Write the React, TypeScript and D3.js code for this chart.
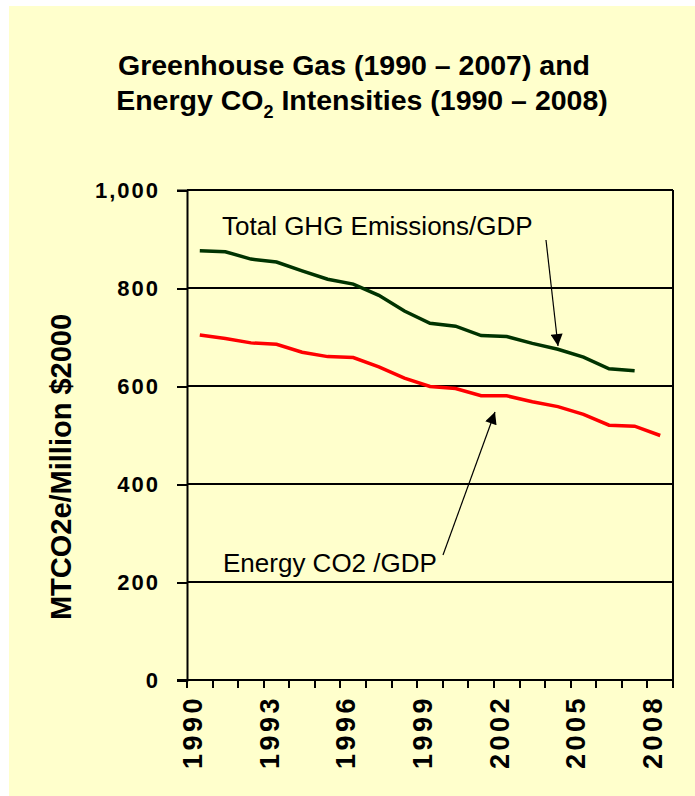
import React, { useEffect, useRef } from "react";
import * as d3 from "d3";

const years = [
  "1990", "1991", "1992", "1993", "1994", "1995", "1996", "1997", "1998", "1999",
  "2000", "2001", "2002", "2003", "2004", "2005", "2006", "2007", "2008",
];
const ghgPerGdp = [876, 874, 859, 853, 835, 818, 808, 785, 753, 728, 722, 703, 701, 687, 675, 659, 635, 631];
const energyCo2PerGdp = [704, 697, 688, 685, 669, 660, 658, 639, 616, 599, 595, 580, 580, 568, 558, 542, 520, 518, 499];
const yTicks = [0, 200, 400, 600, 800, 1000];
const yearLabels = ["1990", "1993", "1996", "1999", "2002", "2005", "2008"];

function App() {
  const ref = useRef<SVGSVGElement>(null);

  useEffect(() => {
    const svg = d3.select(ref.current);
    svg.selectAll("*").remove();

    const left = 187, right = 673, top = 190, bottom = 680;
    const font = "Arial, 'Liberation Sans', sans-serif";

    svg.append("rect").attr("x", 9).attr("y", 6).attr("width", 686).attr("height", 790).attr("fill", "#ffffcc");

    const x = d3.scaleBand().domain(years).range([left, right]).padding(0);
    const y = d3.scaleLinear().domain([0, 1000]).range([bottom, top]);

    // title
    svg.append("text").attr("font-family", font).attr("font-weight", "bold").attr("font-size", 28.5)
      .attr("text-anchor", "middle").attr("x", 354).attr("y", 75).text("Greenhouse Gas (1990 – 2007) and");
    const t2 = svg.append("text").attr("font-family", font).attr("font-weight", "bold").attr("font-size", 28.5)
      .attr("text-anchor", "middle").attr("x", 362).attr("y", 110);
    t2.append("tspan").text("Energy CO");
    t2.append("tspan").attr("font-size", 18).attr("dy", 8).text("2");
    t2.append("tspan").attr("dy", -8).text(" Intensities (1990 – 2008)");

    // grid lines + right border
    svg.append("g").selectAll("line").data(yTicks.filter((d) => d > 0)).join("line")
      .attr("x1", left).attr("x2", right).attr("y1", (d) => y(d)).attr("y2", (d) => y(d))
      .attr("stroke", "#000").attr("stroke-width", 1.5).attr("shape-rendering", "crispEdges");
    svg.append("line").attr("x1", right).attr("x2", right).attr("y1", top).attr("y2", bottom)
      .attr("stroke", "#000").attr("stroke-width", 1.5).attr("shape-rendering", "crispEdges");

    // y axis
    const yAxis = svg.append("g").attr("transform", `translate(${left},0)`)
      .call(d3.axisLeft(y).tickValues(yTicks).tickSize(10).tickFormat(d3.format(",")));
    yAxis.select(".domain").attr("stroke", "#000").attr("stroke-width", 2);
    yAxis.selectAll(".tick line").attr("stroke", "#000").attr("stroke-width", 2).attr("shape-rendering", "crispEdges");
    yAxis.selectAll("text").attr("font-family", font).attr("font-weight", "bold").attr("font-size", 22)
      .attr("letter-spacing", 2).attr("x", -27).attr("fill", "#000");

    // x axis
    const xAxis = svg.append("g").attr("transform", `translate(0,${bottom})`);
    xAxis.append("line").attr("x1", left - 10).attr("x2", right).attr("stroke", "#000").attr("stroke-width", 2);
    xAxis.selectAll("line.tk").data([...years.map((d) => x(d) as number), right]).join("line")
      .attr("class", "tk").attr("x1", (d) => d).attr("x2", (d) => d).attr("y1", 0).attr("y2", 8)
      .attr("stroke", "#000").attr("stroke-width", 2).attr("shape-rendering", "crispEdges");
    xAxis.selectAll("text").data(yearLabels).join("text")
      .attr("transform", (d) => `translate(${(x(d) as number) + x.bandwidth() / 2 + 2},15) rotate(-90)`)
      .attr("text-anchor", "end")
      .attr("font-family", font).attr("font-weight", "bold").attr("font-size", 27).attr("letter-spacing", 3.5)
      .text((d) => d);

    // y axis title
    svg.append("text").attr("transform", "translate(71,467) rotate(-90)").attr("text-anchor", "middle")
      .attr("font-family", font).attr("font-weight", "bold").attr("font-size", 29)
      .text("MTCO2e/Million $2000");

    // lines
    const line = d3.line<number>()
      .x((_, i) => (x(years[i]) as number) + x.bandwidth() / 2)
      .y((d) => y(d));
    svg.append("path").attr("d", line(ghgPerGdp)).attr("fill", "none").attr("stroke", "#003300").attr("stroke-width", 3.5);
    svg.append("path").attr("d", line(energyCo2PerGdp)).attr("fill", "none").attr("stroke", "#ff0000").attr("stroke-width", 3.5);

    // annotations
    svg.append("defs").append("marker").attr("id", "arrow").attr("viewBox", "0 0 10 10")
      .attr("refX", 10).attr("refY", 5).attr("markerWidth", 15).attr("markerHeight", 12)
      .attr("markerUnits", "userSpaceOnUse").attr("orient", "auto")
      .append("path").attr("d", "M0,0L10,5L0,10Z").attr("fill", "#000");

    svg.append("text").attr("x", 222).attr("y", 235).attr("font-family", font).attr("font-size", 26).text("Total GHG Emissions/GDP");
    svg.append("line").attr("x1", 546).attr("y1", 240).attr("x2", 558).attr("y2", 346)
      .attr("stroke", "#000").attr("stroke-width", 1.2).attr("marker-end", "url(#arrow)");

    svg.append("text").attr("x", 223).attr("y", 572).attr("font-family", font).attr("font-size", 26).text("Energy CO2 /GDP");
    svg.append("line").attr("x1", 443).attr("y1", 555).attr("x2", 495).attr("y2", 412)
      .attr("stroke", "#000").attr("stroke-width", 1.2).attr("marker-end", "url(#arrow)");
  }, []);

  return <svg ref={ref} width={695} height={796} style={{ position: "absolute", left: 0, top: 0 }} />;
}

export default App;
